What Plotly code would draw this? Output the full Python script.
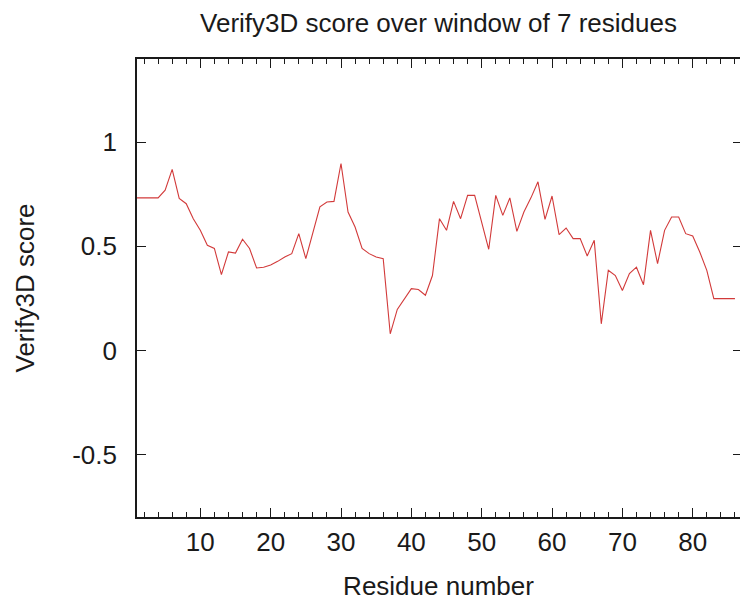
import plotly.graph_objects as go

# Verify3D averaged score per residue (window of 7)
residues = list(range(1, 87))
scores = [
    0.733, 0.733, 0.733, 0.733, 0.770, 0.870, 0.730, 0.705, 0.633, 0.577,
    0.505, 0.490, 0.364, 0.473, 0.468, 0.534, 0.490, 0.396, 0.400, 0.410,
    0.428, 0.449, 0.465, 0.561, 0.441, 0.569, 0.690, 0.713, 0.716, 0.898,
    0.665, 0.593, 0.490, 0.465, 0.449, 0.441, 0.080, 0.197, 0.249, 0.297,
    0.293, 0.265, 0.360, 0.633, 0.577, 0.716, 0.633, 0.745, 0.745, 0.615,
    0.486, 0.745, 0.649, 0.733, 0.572, 0.665, 0.733, 0.810, 0.630, 0.742,
    0.556, 0.588, 0.537, 0.537, 0.454, 0.529, 0.128, 0.385, 0.360, 0.288,
    0.369, 0.400, 0.316, 0.577, 0.417, 0.577, 0.641, 0.641, 0.561, 0.550,
    0.473, 0.385, 0.249, 0.249, 0.249, 0.249,
]

x_ticks = [10, 20, 30, 40, 50, 60, 70, 80]
y_ticks = [-0.5, 0, 0.5, 1]
y_tick_text = ["-0.5", "0", "0.5", "1"]

FONT = "Liberation Sans, Arial, sans-serif"
INK = "#1a1a1a"
LINE_RED = "#d23a3a"
FS = 26

fig = go.Figure()
fig.add_trace(go.Scatter(
    x=residues, y=scores, mode="lines",
    line=dict(color=LINE_RED, width=1.1),
    showlegend=False, hoverinfo="skip",
))
# same series on the right-hand axis so its tick marks get drawn
fig.add_trace(go.Scatter(
    x=residues, y=scores, mode="lines", yaxis="y2",
    line=dict(color="rgba(0,0,0,0)", width=0),
    showlegend=False, hoverinfo="skip",
))

fig.update_layout(
    width=740, height=603,
    margin=dict(l=137, r=0, t=59, b=86),
    paper_bgcolor="white", plot_bgcolor="white",
    font=dict(family=FONT, size=FS, color=INK),
    title=dict(
        text="Verify3D score over window of 7 residues",
        x=0.5, xref="paper", xanchor="center",
        y=1 - 23 / 603, yref="container", yanchor="middle",
        font=dict(family=FONT, size=FS, color=INK),
    ),
    xaxis=dict(
        range=[1, 86.72],
        tickvals=x_ticks,
        ticks="inside", ticklen=9, tickwidth=1.3, tickcolor=INK,
        minor=dict(dtick=2, tick0=0, ticks="inside", ticklen=5,
                   tickwidth=1.2, tickcolor=INK),
        showline=True, linecolor=INK, linewidth=1.6,
        mirror="ticks", showgrid=False, zeroline=False,
        ticklabelstandoff=1,
        title=dict(text="Residue number", standoff=21,
                   font=dict(family=FONT, size=FS, color=INK)),
    ),
    yaxis=dict(
        range=[-0.8, 1.4],
        tickvals=y_ticks, ticktext=y_tick_text,
        ticks="inside", ticklen=9, tickwidth=1.3, tickcolor=INK,
        showline=True, linecolor=INK, linewidth=1.6,
        mirror=False, showgrid=False, zeroline=False,
        ticklabelstandoff=13,
        title=dict(text="Verify3D score", standoff=30,
                   font=dict(family=FONT, size=FS, color=INK)),
    ),
    yaxis2=dict(
        range=[-0.8, 1.4], overlaying="y", side="right", anchor="x",
        tickvals=y_ticks, ticks="inside", ticklen=7, tickwidth=1.3,
        tickcolor=INK, showticklabels=False, showline=False,
        showgrid=False, zeroline=False,
    ),
)

fig.write_html("out.html")
